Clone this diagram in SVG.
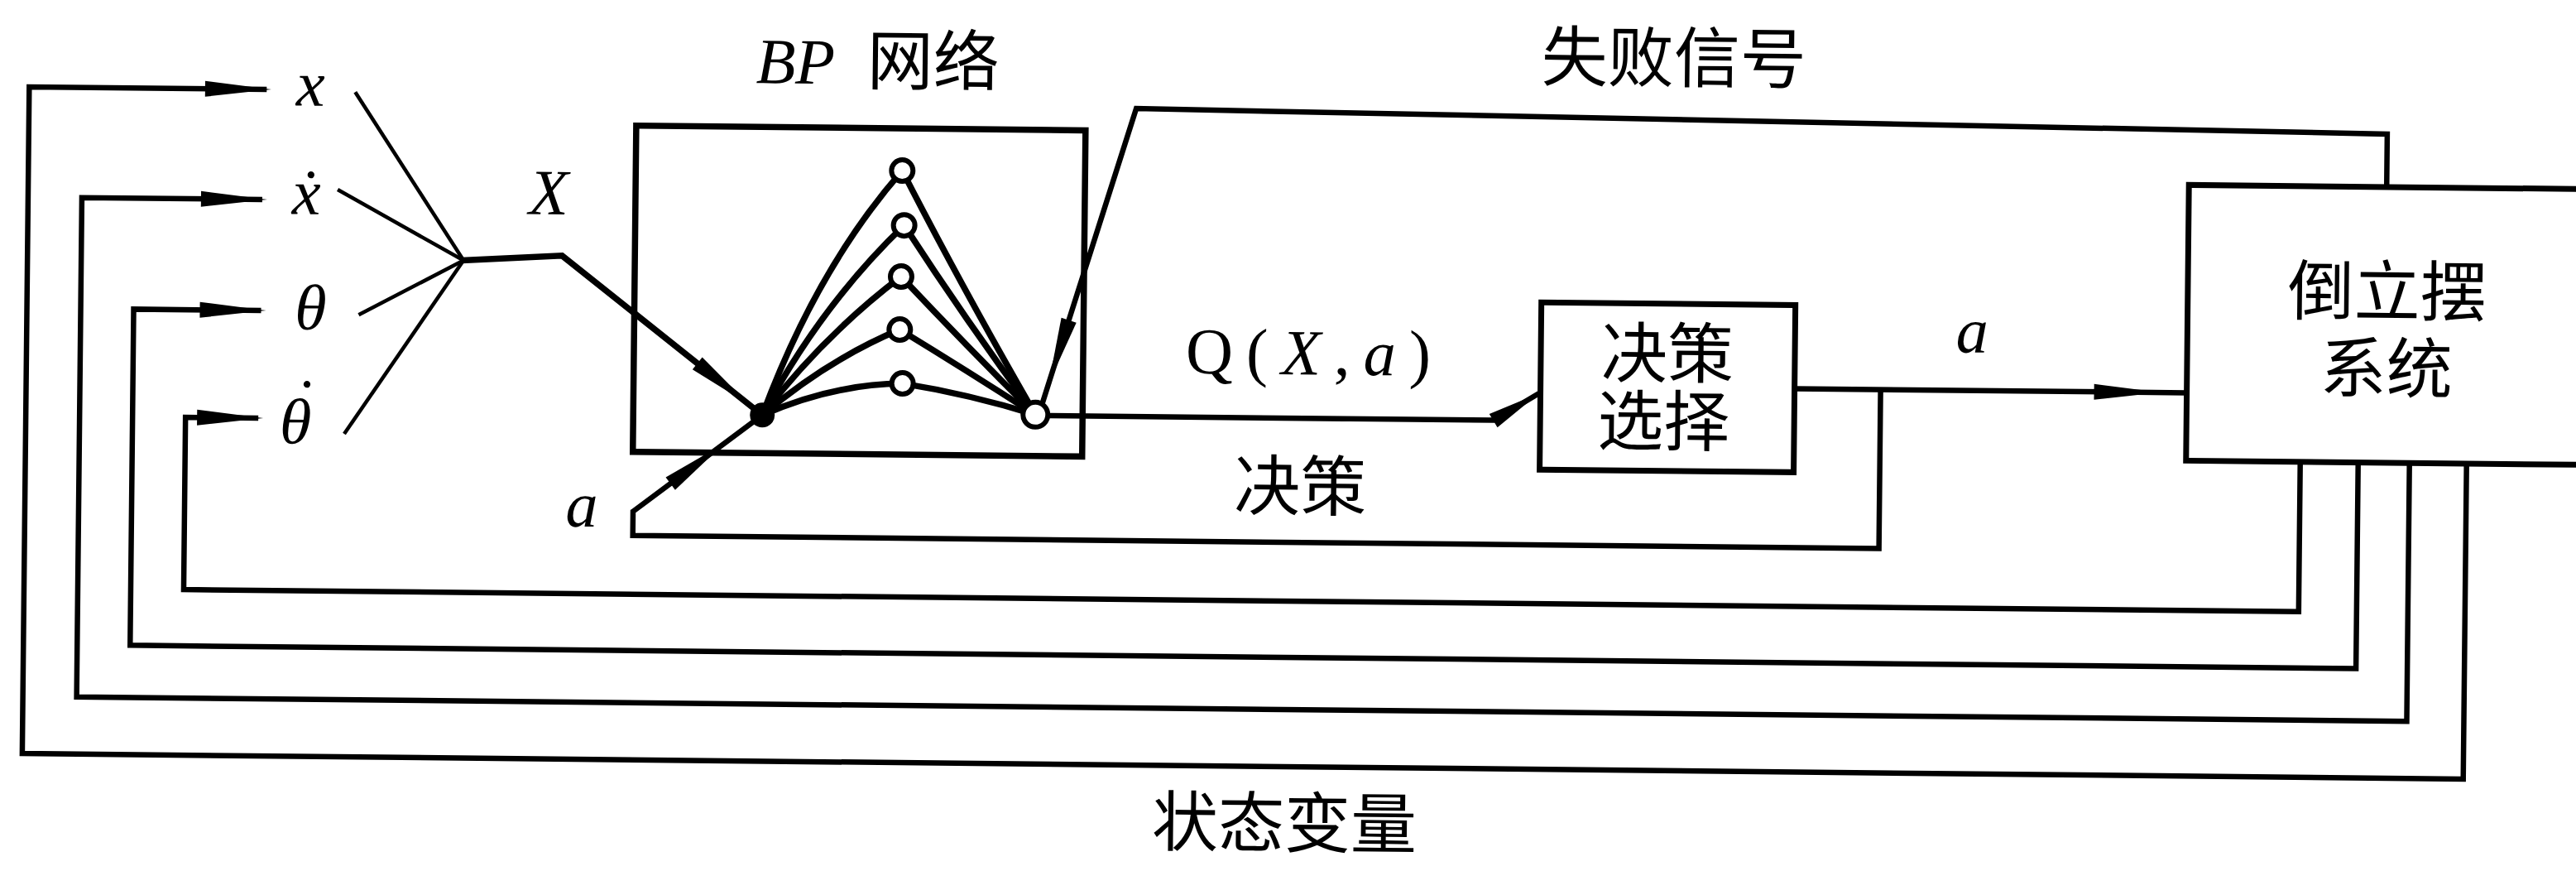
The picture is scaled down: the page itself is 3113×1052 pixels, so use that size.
<svg xmlns="http://www.w3.org/2000/svg" xmlns:xlink="http://www.w3.org/1999/xlink" width="3113" height="1052" viewBox="0 0 3113 1052">
<style>
.ln{fill:none;stroke:#000;stroke-width:6.5;stroke-linejoin:miter;stroke-linecap:butt}
.th{fill:none;stroke:#000;stroke-width:4.5}
.bd{fill:none;stroke:#000;stroke-width:7.5}
.box{fill:#fff;stroke:#000;stroke-width:7}
.hn{fill:#fff;stroke:#000;stroke-width:6}
.cjk{font-family:"Noto Sans CJK SC","Noto Sans CJK TC",sans-serif;font-size:80px;fill:#000}
.var{font-family:"Liberation Serif",serif;font-style:italic;font-size:78px;fill:#000}
.rom{font-family:"Liberation Serif",serif;font-size:79px;fill:#000}
</style>
<defs>
<path id="ah" d="M0,0 L-80,-9.5 L-80,9.5 Z" fill="#000"/>
</defs>
<rect width="3113" height="1052" fill="#fff"/>
<g transform="rotate(0.6 1556 526)">
<g id="connectors">
<path class="ln" d="M318,121 H31 V926 H2981 V545"/>
<path class="ln" d="M314,254 H96 V857 H2912 V545"/>
<path class="ln" d="M314,388 H160 V794 H2850 V545"/>
<path class="ln" d="M312,518 H224 V726 H2780 V545"/>
<path class="th" d="M425,123 L558,325"/>
<path class="th" d="M405,241 L558,325"/>
<path class="th" d="M432,392 L558,325"/>
<path class="th" d="M416,536 L558,325"/>
<path class="bd" d="M556,325 L677,318 L921,508"/>
<path class="ln" d="M1259,491 L1369,133 L2881,148 V212"/>
<path class="ln" d="M1266,505 H1805 L1859,472"/>
<path class="ln" d="M921,508 L766,626 V655 H2272 V463"/>
<path class="ln" d="M2168,463 H2642"/>
<g id="bp-links">
<path class="bd" d="M921,508 Q985,330 1087,211 Q1160,350 1251,504"/>
<path class="bd" d="M921,508 Q990,375 1090,277 Q1165,390 1251,504"/>
<path class="bd" d="M921,508 Q995,410 1087,339 Q1165,420 1251,504"/>
<path class="bd" d="M921,508 Q1000,440 1086,403 Q1165,450 1251,504"/>
<path class="bd" d="M921,508 Q1005,470 1090,468 Q1170,480 1251,504"/>
</g>
<use xlink:href="#ah" href="#ah" transform="translate(323.6,121)"/>
<use xlink:href="#ah" href="#ah" transform="translate(320,254)"/>
<use xlink:href="#ah" href="#ah" transform="translate(320,388)"/>
<use xlink:href="#ah" href="#ah" transform="translate(318,518)"/>
<use xlink:href="#ah" href="#ah" transform="translate(905,495.5) rotate(37.9)"/>
<use xlink:href="#ah" href="#ah" transform="translate(874.5,543.4) rotate(-37.3)"/>
<use xlink:href="#ah" href="#ah" transform="translate(1266.7,466) rotate(107.1)"/>
<use xlink:href="#ah" href="#ah" transform="translate(1859,472) rotate(-31.6) scale(0.8,1)"/>
<use xlink:href="#ah" href="#ah" transform="translate(2610,463)"/>
</g>
<g id="bp-network">
<rect class="bd" x="765" y="160" width="543" height="394"/>
<text x="909" y="107"><tspan class="var">BP</tspan><tspan class="cjk" x="1043">网络</tspan></text>
</g>
<g id="input-node"><circle cx="921" cy="508" r="15" fill="#000"/></g>
<g id="hidden-1"><circle class="hn" cx="1087" cy="211" r="13"/></g>
<g id="hidden-2"><circle class="hn" cx="1090" cy="277" r="13"/></g>
<g id="hidden-3"><circle class="hn" cx="1087" cy="339" r="13"/></g>
<g id="hidden-4"><circle class="hn" cx="1086" cy="403" r="13"/></g>
<g id="hidden-5"><circle class="hn" cx="1090" cy="468" r="13"/></g>
<g id="output-node"><circle class="hn" cx="1251" cy="504" r="15"/></g>
<g id="decision-select">
<rect class="box" x="1861" y="362" width="307" height="202"/>
<text class="cjk" text-anchor="middle"><tspan x="2014" y="451">决策</tspan><tspan x="2010" y="533">选择</tspan></text>
</g>
<g id="pendulum">
<rect class="box" x="2642" y="212" width="620" height="333"/>
<text class="cjk" text-anchor="middle"><tspan x="2883" y="367">倒立摆</tspan><tspan x="2883" y="460">系统</tspan></text>
</g>
<g id="labels">
<text class="var" x="371" y="140" text-anchor="middle">x</text>
<text class="var" x="367" y="271" text-anchor="middle">x&#x307;</text>
<text class="var" x="374" y="410" text-anchor="middle">θ</text>
<text class="var" x="338" y="548">θ<tspan dx="-24" dy="-24">˙</tspan></text>
<text class="var" x="660" y="268" text-anchor="middle" font-size="80">X</text>
<text class="var" x="704" y="645" text-anchor="middle">a</text>
<text class="var" x="2382" y="417" text-anchor="middle">a</text>
<text class="rom" x="1432" y="452" letter-spacing="16">Q(<tspan class="var" font-size="79">X</tspan>,<tspan class="var" font-size="79">a</tspan>)</text>
<text class="cjk" x="2018" y="94" text-anchor="middle">失败信号</text>
<text class="cjk" x="1572" y="616" text-anchor="middle">决策</text>
<text class="cjk" x="1557" y="1023" text-anchor="middle">状态变量</text>
</g>
</g>
</svg>
